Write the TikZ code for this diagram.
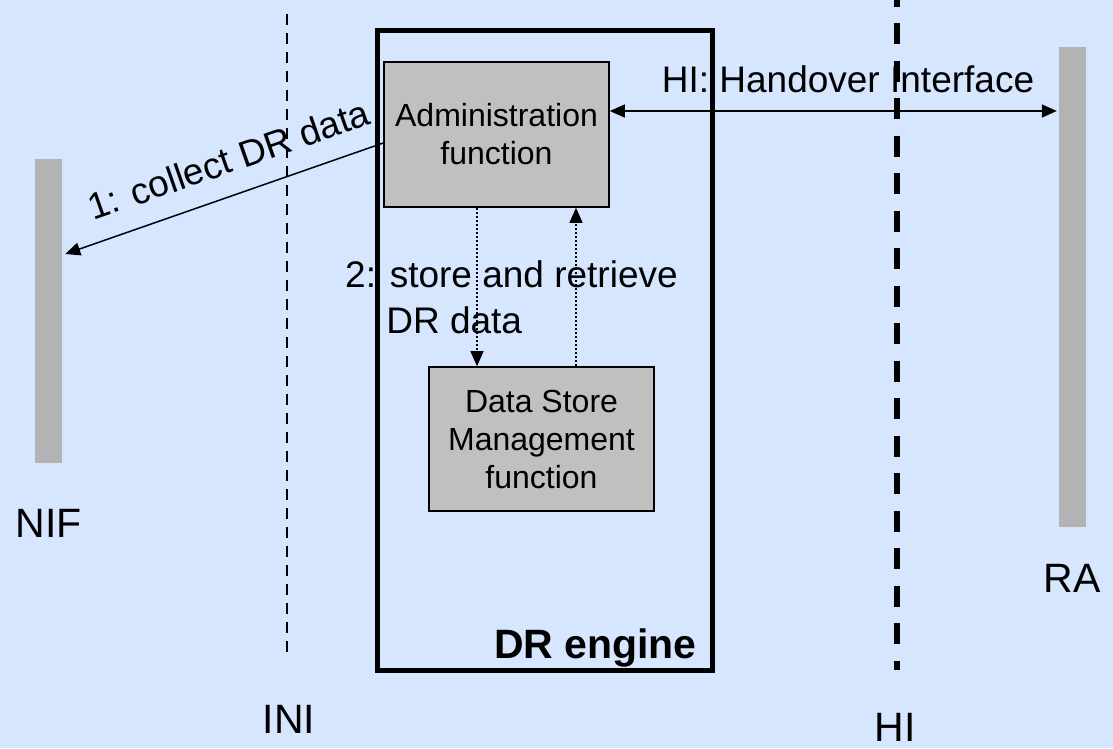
\documentclass[tikz,border=0pt]{standalone}
\usepackage{fontspec}
\setmainfont{Liberation Sans}
\usetikzlibrary{arrows.meta}

\definecolor{paper}{RGB}{214,230,255}
\definecolor{boxgray}{RGB}{192,192,192}
\definecolor{bargray}{RGB}{179,179,179}

\tikzset{
  fnbox/.style={draw=black, line width=1.6pt, fill=boxgray, inner sep=0pt,
    minimum width=225pt, align=center, font=\fontsize{32}{38}\selectfont},
  lifebar/.style={fill=bargray, draw=none, inner sep=0pt, minimum width=27pt},
  enginebox/.style={draw=black, line width=5pt, inner sep=0pt,
    minimum width=335pt, minimum height=639.5pt},
  both/.style={line width=1.5pt, {Triangle[length=15pt,width=13pt]}-{Triangle[length=15pt,width=13pt]}},
  dotmsg/.style={line width=1.5pt, dash pattern=on 2pt off 2pt, -{Triangle[length=15pt,width=13pt]}},
  label/.style={inner sep=0pt, font=\fontsize{37}{46}\selectfont},
  biglabel/.style={inner sep=0pt, font=\fontsize{41}{48}\selectfont},
  thinbound/.style={line width=2.6pt, dash pattern=on 11pt off 8pt},
  thickbound/.style={line width=5.2pt, dash pattern=on 21pt off 16.5pt, dash phase=14.5pt},
}

\begin{document}
\begin{tikzpicture}[x=1pt, y=-1pt]
  % page
  \fill[paper] (0,0) rectangle (1113,748);
  \useasboundingbox (0,0) rectangle (1113,748);

  % interface boundaries
  \coordinate (initop) at (287,14.3);
  \coordinate (inibot) at (287,654);
  \draw[thinbound] (initop) -- (inibot);
  \coordinate (hitop) at (897,0);
  \coordinate (hibot) at (897,670);
  \draw[thickbound] (hitop) -- (hibot);

  % life bars of the two end points
  \node[lifebar, minimum height=304pt] (nif) at (48.5,311) {};
  \node[lifebar, minimum height=480pt] (ra) at (1072.5,287) {};

  % DR engine and its two functions
  \node[enginebox] (engine) at (544.5,350.25) {};
  \node[fnbox, minimum height=145pt] (admin) at (496.5,134.5) {Administration\\function};
  \node[fnbox, minimum height=144pt] (dsm) at (541.5,439) {Data Store\\Management\\function};

  % 1: collect DR data
  \coordinate (adminout) at ([yshift=-8.5pt]admin.west);
  \coordinate (nifin) at ([xshift=3pt,yshift=57pt]nif.east);
  \draw[line width=1.5pt, {Triangle[length=15pt,width=13pt]}-] (nifin) --
    node[pos=0.55, sloped, above=21pt, label] {1: collect DR data} (adminout);

  % HI: Handover Interface
  \coordinate (hia) at ([yshift=23.5pt]admin.east);
  \draw[both, shorten >=2pt] (hia) -- (hia -| ra.west);

  % 2: store and retrieve DR data
  \coordinate (downtop) at ([xshift=-19.5pt]admin.south);
  \coordinate (uptop) at ([xshift=79.5pt]admin.south);
  \draw[dotmsg] (downtop) -- (downtop |- dsm.north);
  \draw[dotmsg] (uptop |- dsm.north) -- (uptop);

  % texts
  \node[label, anchor=base west, align=left] (storetxt) at (345,333)
    {2: store and retrieve\\\hphantom{2:\ }DR data};
  \node[label, anchor=base] (hitxt) at (848,92) {HI: Handover Interface};
  \node[inner sep=0pt, anchor=base east, font=\fontsize{41}{48}\selectfont\bfseries]
    (enginetxt) at (697,658) {DR engine};
  \node[biglabel, anchor=base] (niftxt) at (48.5,537) {NIF};
  \node[biglabel, anchor=base] (initxt) at (289,733) {INI};
  \node[biglabel, anchor=base] (hilbl) at (895,741) {HI};
  \node[biglabel, anchor=base] (ratxt) at (1072,592) {RA};
\end{tikzpicture}
\end{document}
